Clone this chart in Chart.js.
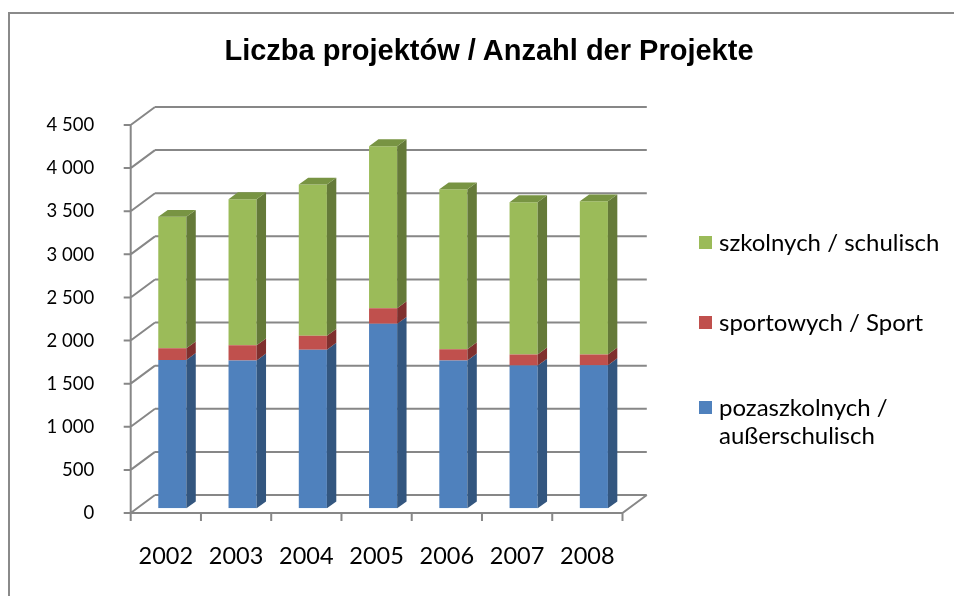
<!DOCTYPE html>
<html>
  <head>
    <meta charset="utf-8">
    <title>Liczba projektów / Anzahl der Projekte</title>
    <script src="https://cdn.jsdelivr.net/npm/chart.js"></script>
    <style>
      body {
        margin: 0;
        background: #ffffff;
        font-family: Lato, sans-serif;
      }
      #wrap {
        position: relative;
        width: 954px;
        height: 596px;
        overflow: hidden;
      }
      /* grey frame of the chart object, only top and left edges are visible */
      #frame {
        position: absolute;
        left: 8px;
        top: 12px;
        width: 1000px;
        height: 700px;
        border-left: 2px solid #8a8a8a;
        border-top: 2px solid #8a8a8a;
      }
      #chart {
        position: absolute;
        left: 0;
        top: 0;
      }
      #title {
        position: absolute;
        left: 189px;
        width: 600px;
        top: 32px;
        text-align: center;
        font-family: "Liberation Sans", Arial, sans-serif;
        font-weight: bold;
        font-size: 29px;
        line-height: 36px;
        color: #000000;
      }
      .legend-item {
        position: absolute;
        left: 699px;
        width: 250px;
        display: flex;
        align-items: flex-start;
        font-size: 24px;
        line-height: 28px;
        color: #000000;
      }
      .legend-box {
        width: 13px;
        height: 13px;
        margin-top: 8px;
        margin-right: 7px;
        flex: none;
      }
    </style>
  </head>
  <body>
    <div id="wrap">
      <div id="frame"></div>
      <canvas id="chart" width="954" height="596"></canvas>
      <div id="title">Liczba projektów / Anzahl der Projekte</div>
      <div id="legend"></div>
    </div>

    <script>
      // data
      const years = ["2002", "2003", "2004", "2005", "2006", "2007", "2008"];
      const pozaszkolne = [1720, 1715, 1840, 2140, 1715, 1655, 1660];
      const sportowe = [135, 175, 160, 180, 130, 130, 125];
      const szkolne = [1525, 1695, 1755, 1880, 1855, 1765, 1775];
      const yTicks = [0, 500, 1000, 1500, 2000, 2500, 3000, 3500, 4000, 4500];

      const seriesNames = [
        "pozaszkolnych / außerschulisch",
        "sportowych / Sport",
        "szkolnych / schulisch",
      ];
      const frontColors = ["#4f81bd", "#c0504d", "#9bbb59"];
      const sideColors = ["#33567f", "#7f302e", "#657a39"];
      const topColor = "#789443";

      // offsets of the 3D box relative to the plane the bars stand in
      const FRONT = { dx: -6.5, dy: 4.7 };
      const BACK = { dx: 17.8, dy: -13.3 };
      const DEPTH = { dx: 9.4, dy: -6.9 };
      const lineColor = "#878787";

      function formatTick(v) {
        if (v < 1000) return String(v);
        const rest = String(v % 1000).padStart(3, "0");
        return Math.floor(v / 1000) + " " + rest;
      }

      // walls, floor and axis lines of the 3D frame
      const frame3d = {
        id: "frame3d",
        beforeDatasetsDraw(chart) {
          const ctx = chart.ctx;
          const { left, right, top, bottom } = chart.chartArea;
          const y = chart.scales.y;
          const x = chart.scales.x;
          ctx.save();
          ctx.strokeStyle = lineColor;
          ctx.lineWidth = 2;
          ctx.beginPath();
          y.ticks.forEach((t) => {
            const py = y.getPixelForValue(t.value);
            // back wall gridline
            ctx.moveTo(left + BACK.dx, py + BACK.dy);
            ctx.lineTo(right + BACK.dx, py + BACK.dy);
            // side wall diagonal
            ctx.moveTo(left + FRONT.dx, py + FRONT.dy);
            ctx.lineTo(left + BACK.dx, py + BACK.dy);
            // tick mark on the value axis
            ctx.moveTo(left + FRONT.dx - 7, py + FRONT.dy);
            ctx.lineTo(left + FRONT.dx, py + FRONT.dy);
          });
          // value axis
          ctx.moveTo(left + FRONT.dx, top + FRONT.dy);
          ctx.lineTo(left + FRONT.dx, bottom + FRONT.dy);
          // floor front edge and right edge
          ctx.moveTo(left + FRONT.dx, bottom + FRONT.dy);
          ctx.lineTo(right + FRONT.dx, bottom + FRONT.dy);
          ctx.lineTo(right + BACK.dx, bottom + BACK.dy);
          // category tick marks
          for (let i = 0; i <= years.length; i++) {
            const px = x.getPixelForValue(i - 0.5) + FRONT.dx;
            ctx.moveTo(px, bottom + FRONT.dy);
            ctx.lineTo(px, bottom + FRONT.dy + 8);
          }
          ctx.stroke();
          ctx.restore();
        },
        afterDatasetsDraw(chart) {
          const ctx = chart.ctx;
          const last = chart.data.datasets.length - 1;
          ctx.save();
          chart.data.datasets.forEach((ds, di) => {
            const meta = chart.getDatasetMeta(di);
            meta.data.forEach((bar) => {
              const p = bar.getProps(["x", "y", "base", "width"], true);
              const l = p.x - p.width / 2;
              const r = p.x + p.width / 2;
              const t = Math.min(p.y, p.base);
              const b = Math.max(p.y, p.base);
              // right side face
              ctx.fillStyle = sideColors[di];
              ctx.beginPath();
              ctx.moveTo(r, t);
              ctx.lineTo(r + DEPTH.dx, t + DEPTH.dy);
              ctx.lineTo(r + DEPTH.dx, b + DEPTH.dy);
              ctx.lineTo(r, b);
              ctx.closePath();
              ctx.fill();
              // top face of the stack
              if (di === last) {
                ctx.fillStyle = topColor;
                ctx.beginPath();
                ctx.moveTo(l, t);
                ctx.lineTo(l + DEPTH.dx, t + DEPTH.dy);
                ctx.lineTo(r + DEPTH.dx, t + DEPTH.dy);
                ctx.lineTo(r, t);
                ctx.closePath();
                ctx.fill();
              }
            });
          });
          ctx.restore();
        },
      };

      const seriesValues = [pozaszkolne, sportowe, szkolne];

      new Chart(document.getElementById("chart"), {
        type: "bar",
        data: {
          labels: years,
          datasets: seriesValues.map((vals, i) => ({
            label: seriesNames[i],
            data: vals,
            backgroundColor: frontColors[i],
            borderWidth: 0,
            categoryPercentage: 1,
            barPercentage: 0.4,
          })),
        },
        options: {
          responsive: false,
          animation: false,
          layout: { padding: { left: 0, right: 325, top: 120.3, bottom: 0 } },
          plugins: {
            legend: { display: false },
            tooltip: { enabled: false },
          },
          scales: {
            x: {
              stacked: true,
              grid: { display: false, drawTicks: false },
              border: { display: false },
              ticks: {
                color: "#000000",
                font: { family: "Lato", size: 23.5 },
                padding: 34,
                labelOffset: -6.5,
                maxRotation: 0,
              },
              afterFit(scale) {
                scale.height = 87.7;
              },
            },
            y: {
              stacked: true,
              min: 0,
              max: 4500,
              afterBuildTicks(scale) {
                scale.ticks = yTicks.map((v) => ({ value: v }));
              },
              grid: { display: false, drawTicks: false },
              border: { display: false },
              ticks: {
                color: "#000000",
                font: { family: "Lato", size: 18.5 },
                padding: 43,
                labelOffset: 5,
                callback: (v) => formatTick(v),
              },
              afterFit(scale) {
                scale.width = 137.2;
              },
            },
          },
        },
        plugins: [frame3d],
      });

      // legend on the right, top series first
      const legendTops = [392.7, 308, 227.7];
      const legend = document.getElementById("legend");
      seriesNames.forEach((name, i) => {
        const item = document.createElement("div");
        item.className = "legend-item";
        item.style.top = legendTops[i] + "px";
        const box = document.createElement("span");
        box.className = "legend-box";
        box.style.background = frontColors[i];
        const txt = document.createElement("span");
        txt.textContent = name;
        item.appendChild(box);
        item.appendChild(txt);
        legend.appendChild(item);
      });
    </script>
  </body>
</html>
